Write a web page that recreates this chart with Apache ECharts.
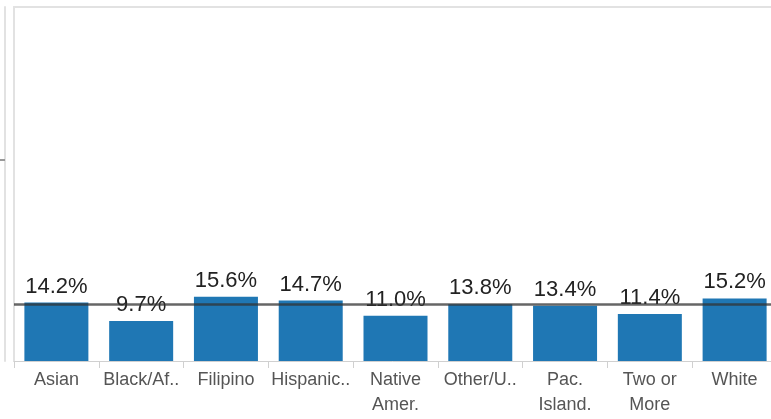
<!DOCTYPE html>
<html>
<head>
<meta charset="utf-8">
<script src="https://cdn.jsdelivr.net/npm/echarts@6/dist/echarts.min.js"></script>
<style>
  html, body { margin: 0; padding: 0; background: #fff; }
  #chart { width: 771px; height: 419px; }
</style>
</head>
<body>
<div id="chart"></div>
<script>
// Share by group, with the overall average as a reference line
const groups = ["Asian", "Black/Af..", "Filipino", "Hispanic..", "Native\nAmer.", "Other/U..", "Pac.\nIsland.", "Two or\nMore", "White"]
const shares = [14.2, 9.7, 15.6, 14.7, 11.0, 13.8, 13.4, 11.4, 15.2]
const average = 13.8
const yTicks = [48.8]

const chart = echarts.init(document.getElementById("chart"))

const yBase = {
  type: "value",
  min: 0,
  max: 86,
  interval: 48.8,
  axisLabel: { show: false },
  splitLine: { show: false },
}

chart.setOption({
  animation: false,
  grid: {
    left: 14,
    top: 7,
    right: -6,
    bottom: 58,
    outerBoundsMode: "none",
    containLabel: false,
  },
  xAxis: [
    {
      type: "category",
      data: groups,
      axisLine: { lineStyle: { color: "#d0d0d0", width: 1 } },
      axisTick: { show: true, length: 7, lineStyle: { color: "#d0d0d0" } },
      axisLabel: {
        interval: 0,
        color: "#555",
        fontFamily: "Liberation Sans, Arial, sans-serif",
        fontSize: 18,
        lineHeight: 25,
        margin: 7,
      },
    },
    {
      // top frame line only
      type: "category",
      data: groups,
      position: "top",
      axisLine: { show: true, onZero: false, lineStyle: { color: "#e2e2e2", width: 2 } },
      axisTick: { show: false },
      axisLabel: { show: false },
    },
  ],
  yAxis: [
    Object.assign({}, yBase, {
      axisLine: { show: true, onZero: false, lineStyle: { color: "#e2e2e2", width: 2 } },
      axisTick: { show: false },
    }),
    Object.assign({}, yBase, {
      position: "left",
      offset: 9,
      axisLine: { show: true, onZero: false, lineStyle: { color: "#e2e2e2", width: 2 } },
      axisTick: {
        show: true,
        length: 5,
        customValues: yTicks,
        lineStyle: { color: "#999", width: 2 },
      },
    }),
  ],
  series: [
    {
      type: "bar",
      data: shares,
      barWidth: 64,
      itemStyle: { color: "#1f77b4" },
      label: {
        show: true,
        position: "top",
        distance: 5,
        formatter: (p) => p.value.toFixed(1) + "%",
        color: "#222",
        fontFamily: "Liberation Sans, Arial, sans-serif",
        fontSize: 22,
      },
      markLine: {
        silent: true,
        symbol: "none",
        label: { show: false },
        lineStyle: { color: "#333", width: 2.5, type: "solid", opacity: 0.75 },
        data: [{ yAxis: average }],
        z: 10,
      },
    },
  ],
})
</script>
</body>
</html>
